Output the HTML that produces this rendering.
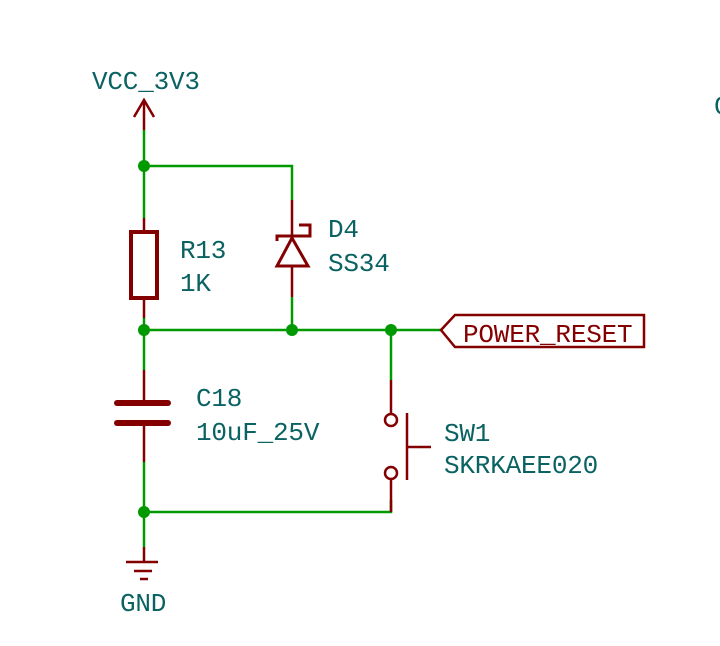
<!DOCTYPE html>
<html><head><meta charset="utf-8"><style>
html,body{margin:0;padding:0;background:#fff;}
svg{display:block}
text{font-family:"Liberation Mono",monospace;font-size:26px;fill:#0b6262;letter-spacing:-0.2px}
</style></head><body>
<svg width="720" height="646" viewBox="0 0 720 646" xmlns="http://www.w3.org/2000/svg">
<g stroke="#009900" stroke-width="2.5" fill="none">
<polyline points="144,130 144,218"/>
<polyline points="144,166 292,166 292,200"/>
<line x1="292" y1="297" x2="292" y2="330"/>
<line x1="144" y1="318" x2="144" y2="370"/>
<line x1="144" y1="330" x2="441" y2="330"/>
<line x1="391" y1="330" x2="391" y2="380"/>
<line x1="144" y1="462" x2="144" y2="547"/>
<polyline points="144,512 391,512 391,500"/>
</g>
<g fill="#009900">
<circle cx="144" cy="166" r="6"/>
<circle cx="144" cy="330" r="6"/>
<circle cx="292" cy="330" r="6"/>
<circle cx="391" cy="330" r="6"/>
<circle cx="144" cy="512" r="6"/>
</g>
<g stroke="#840000" stroke-width="2.5" fill="none">
<line x1="144" y1="100" x2="144" y2="130"/>
<polyline points="134,117 144,100 154,117"/>
<line x1="144" y1="218" x2="144" y2="232"/>
<rect x="131" y="232" width="26" height="66" stroke-width="4"/>
<line x1="144" y1="298" x2="144" y2="318"/>
<line x1="292" y1="200" x2="292" y2="297"/>
<polyline points="277,241 277,236 310,236 310,225 299,225" stroke-width="3"/>
<polygon points="292,238 277,266 308,266" stroke-width="3" fill="#fff"/>
<line x1="144" y1="370" x2="144" y2="403"/>
<line x1="117" y1="403" x2="168" y2="403" stroke-width="6" stroke-linecap="round"/>
<line x1="117" y1="423" x2="168" y2="423" stroke-width="6" stroke-linecap="round"/>
<line x1="144" y1="423" x2="144" y2="462"/>
<line x1="391" y1="380" x2="391" y2="414"/>
<circle cx="391" cy="420" r="6" fill="#fff"/>
<circle cx="391" cy="473" r="6" fill="#fff"/>
<line x1="391" y1="479" x2="391" y2="512"/>
<line x1="407" y1="413" x2="407" y2="480"/>
<line x1="407" y1="447" x2="431" y2="447"/>
<line x1="144" y1="547" x2="144" y2="562"/>
<line x1="126" y1="562" x2="158" y2="562"/>
<line x1="134" y1="571" x2="152" y2="571"/>
<line x1="140" y1="579" x2="148" y2="579"/>
<polygon points="441,330 455,315 644,315 644,347 455,347"/>
</g>
<text x="92" y="89">VCC_3V3</text>
<text x="180" y="258">R13</text>
<text x="180" y="291">1K</text>
<text x="328" y="237">D4</text>
<text x="328" y="271">SS34</text>
<text x="196" y="406">C18</text>
<text x="196" y="440">10uF_25V</text>
<text x="444" y="441">SW1</text>
<text x="444" y="473">SKRKAEE020</text>
<text x="120" y="611">GND</text>
<text x="463" y="342" style="fill:#840000">POWER_RESET</text>
<text x="714" y="114">C</text>
</svg>
</body></html>
